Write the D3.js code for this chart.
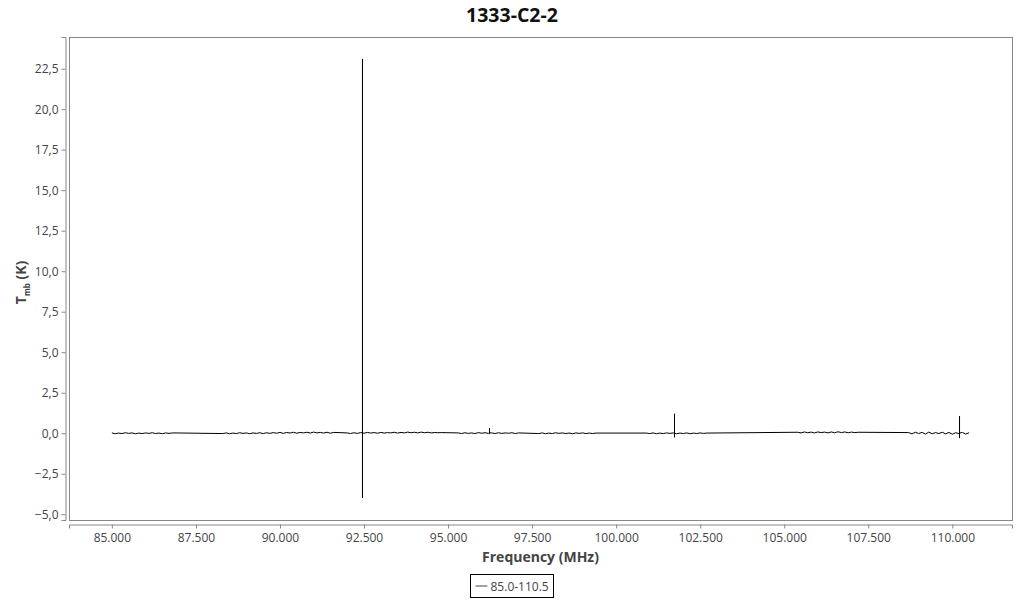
<!DOCTYPE html>
<html>
<head>
<meta charset="utf-8">
<script src="https://cdn.jsdelivr.net/npm/d3@7"></script>
<style>
  body { margin: 0; background: #fff; }
  svg { font-family: "Open Sans", sans-serif; }
</style>
</head>
<body>
<div id="chart"></div>
<script>
const TITLE = '1333-C2-2';
const SERIES_NAME = '85.0-110.5';

// spectral windows (MHz) and their channel values (K)
const segStart = [85.0, 88.3, 92.0, 95.3, 97.7, 100.9, 105.4, 108.7];
const segEnd = [86.8, 91.6, 94.8, 97.1, 99.4, 102.7, 107.2, 110.5];
const segValues = [
  [0.02, -0.03, 0.01, -0.02, 0.03, -0.01, 0.02, -0.03, 0.01, -0.02, 0.02, -0.01, 0.03, -0.02, 0.01, -0.03, 0.02, -0.01, 0.02],
  [-0.02, 0.02, -0.03, 0.01, -0.02, 0.03, -0.01, 0.02, -0.03, 0.02, -0.01, 0.03, -0.02, 0.03, -0.01, 0.04, 0.00, 0.05, -0.01, 0.05, 0.01, 0.06, 0.00, 0.05, 0.02, 0.06, 0.01, 0.07, 0.02, 0.05, 0.01, 0.06, 0.00, 0.05],
  [0.02, -0.02, 0.03, -0.01, 0.04, 0.00, 0.05, 0.01, 0.04, 0.00, 0.05, 0.01, 0.04, 0.02, 0.06, 0.01, 0.05, 0.02, 0.07, 0.03, 0.06, 0.02, 0.07, 0.03, 0.06, 0.02, 0.05, 0.03, 0.04],
  [0.02, -0.02, 0.03, -0.01, 0.02, -0.02, 0.04, 0.00, 0.03, -0.01, 0.02, -0.02, 0.03, -0.01, 0.02, 0.00, 0.03, -0.02, 0.02],
  [-0.02, 0.02, -0.03, 0.01, -0.02, 0.03, -0.01, 0.02, -0.02, 0.01, -0.03, 0.02, -0.01, 0.02, -0.02, 0.01, -0.02, 0.01],
  [0.01, -0.02, 0.02, -0.03, 0.01, -0.02, 0.02, -0.01, 0.02, -0.03, 0.01, -0.02, 0.02, -0.03, 0.01, -0.02, 0.02, -0.01, 0.01],
  [0.06, 0.02, 0.08, 0.03, 0.07, 0.02, 0.08, 0.04, 0.07, 0.02, 0.08, 0.03, 0.09, 0.04, 0.08, 0.03, 0.07, 0.04, 0.06],
  [0.04, -0.04, 0.06, -0.02, 0.05, -0.05, 0.07, -0.03, 0.04, -0.02, 0.06, -0.04, 0.05, -0.06, 0.03, -0.02, 0.05, -0.05, 0.03]
];

// emission lines: baseline, peak, dip, baseline at the same frequency
const lineFreq = [92.455, 96.233, 101.736, 110.214];
const lineBase = [0.02, 0.03, 0.0, 0.01];
const linePeak = [23.1, 0.3, 1.2, 1.05];
const lineDip = [-4.0, -0.05, -0.25, -0.3];

const yTicks = [-5, -2.5, 0, 2.5, 5, 7.5, 10, 12.5, 15, 17.5, 20, 22.5];
const xTicks = [85, 87.5, 90, 92.5, 95, 97.5, 100, 102.5, 105, 107.5, 110];

const WIDTH = 1024;
const HEIGHT = 600;
const plot = {left: 69, right: 1012, top: 37, bottom: 520};

function translate(x, y) {
  return `translate(${x}, ${y})`;
}

// build the point list
let points = [];
segValues.forEach((vals, s) => {
  const step = (segEnd[s] - segStart[s]) / (vals.length - 1);
  vals.forEach((v, i) => points.push({f: segStart[s] + i * step, t: v, o: 0}));
});
lineFreq.forEach((f, i) => {
  points.push({f: f, t: lineBase[i], o: 0});
  points.push({f: f, t: linePeak[i], o: 1});
  points.push({f: f, t: lineDip[i], o: 2});
  points.push({f: f, t: lineBase[i], o: 3});
});
points.sort((a, b) => a.f - b.f || a.o - b.o);

const xExt = d3.extent(points, d => d.f);
const yExt = d3.extent(points, d => d.t);
const xPad = (xExt[1] - xExt[0]) * 0.05;
const yPad = (yExt[1] - yExt[0]) * 0.05;

const x = d3.scaleLinear()
  .domain([xExt[0] - xPad, xExt[1] + xPad])
  .range([plot.left, plot.right]);
const y = d3.scaleLinear()
  .domain([yExt[0] - yPad, yExt[1] + yPad])
  .range([plot.bottom, plot.top]);

const deLocale = d3.formatLocale({decimal: ',', thousands: '.', grouping: [3], currency: ['', '€']});
const fmtY = deLocale.format('.1f');
const fmtX = d3.format('.3f');

const svg = d3.select('#chart').append('svg')
  .attr('width', WIDTH)
  .attr('height', HEIGHT);

// title
svg.append('text')
  .attr('x', WIDTH / 2)
  .attr('y', 22)
  .attr('text-anchor', 'middle')
  .attr('font-size', 19.5)
  .attr('font-weight', 'bold')
  .attr('fill', '#111')
  .text(TITLE);

// frame
svg.append('rect')
  .attr('x', plot.left + 0.5)
  .attr('y', plot.top + 0.5)
  .attr('width', plot.right - plot.left)
  .attr('height', plot.bottom - plot.top)
  .attr('fill', 'none')
  .attr('stroke', '#888');

// axes
const yAxis = svg.append('g')
  .attr('transform', translate(65.5, 0))
  .call(d3.axisLeft(y).tickValues(yTicks).tickFormat(fmtY).tickSize(4).tickPadding(3));
yAxis.select('.domain').attr('stroke', '#888');
yAxis.selectAll('.tick line').attr('stroke', '#888');
yAxis.selectAll('.tick text').attr('fill', '#444').attr('font-size', 12)
  .attr('font-family', '"Open Sans", sans-serif');

const xAxis = svg.append('g')
  .attr('transform', translate(0, 524.5))
  .call(d3.axisBottom(x).tickValues(xTicks).tickFormat(fmtX).tickSize(4).tickPadding(5));
xAxis.select('.domain').attr('stroke', '#888');
xAxis.selectAll('.tick line').attr('stroke', '#888');
xAxis.selectAll('.tick text').attr('fill', '#444').attr('font-size', 12)
  .attr('font-family', '"Open Sans", sans-serif');

// axis titles
svg.append('text')
  .attr('x', (plot.left + plot.right) / 2)
  .attr('y', 562)
  .attr('text-anchor', 'middle')
  .attr('font-size', 14)
  .attr('font-weight', 'bold')
  .attr('fill', '#444')
  .text('Frequency (MHz)');

const yTitle = svg.append('text')
  .attr('transform', translate(26, (plot.top + plot.bottom) / 2 + 4) + ' rotate(-90)')
  .attr('text-anchor', 'middle')
  .attr('font-size', 14)
  .attr('font-weight', 'bold')
  .attr('fill', '#444');
yTitle.append('tspan').text('T');
yTitle.append('tspan').attr('font-size', 8).attr('dy', 4).text('mb');
yTitle.append('tspan').attr('dy', -4).text(' (K)');

// spectrum
const line = d3.line()
  .x(d => x(d.f))
  .y(d => y(d.t));

svg.append('path')
  .datum(points)
  .attr('fill', 'none')
  .attr('stroke', '#000')
  .attr('stroke-width', 1)
  .attr('d', line);

// legend
const legend = svg.append('g').attr('transform', translate(470.5, 574.5));
legend.append('rect')
  .attr('width', 83)
  .attr('height', 23)
  .attr('fill', '#fff')
  .attr('stroke', '#000');
legend.append('line')
  .attr('x1', 5).attr('x2', 17)
  .attr('y1', 11.5).attr('y2', 11.5)
  .attr('stroke', '#444');
legend.append('text')
  .attr('x', 20)
  .attr('y', 16)
  .attr('font-size', 12)
  .attr('fill', '#444')
  .text(SERIES_NAME);
</script>
</body>
</html>
